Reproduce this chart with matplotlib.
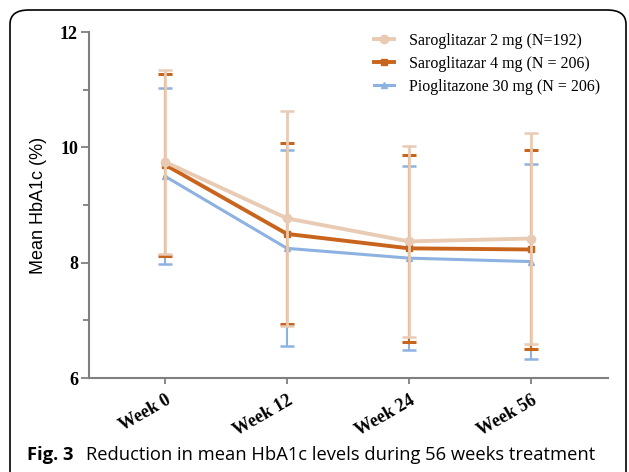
import matplotlib
matplotlib.use("Agg")
import matplotlib.pyplot as plt
from matplotlib.patches import FancyBboxPatch
from matplotlib.lines import Line2D
import matplotlib.transforms as mtransforms

categories = ["Week 0", "Week 12", "Week 24", "Week 56"]
saro2_mean = [9.75, 8.77, 8.37, 8.42]
saro2_sd = [1.60, 1.86, 1.65, 1.83]
saro4_mean = [9.70, 8.50, 8.25, 8.23]
saro4_sd = [1.58, 1.57, 1.62, 1.72]
pio_mean = [9.50, 8.25, 8.08, 8.02]
pio_sd = [1.53, 1.70, 1.60, 1.69]
labels = ["Saroglitazar 2 mg (N=192)", "Saroglitazar 4 mg (N = 206)", "Pioglitazone 30 mg (N = 206)"]

c_tan = "#E9CBB4"
c_org = "#C8641C"
c_blu = "#8DB2E2"

fig = plt.figure(figsize=(6.29, 4.72), dpi=100)
ax = fig.add_axes([0.1415, 0.199, 0.825, 0.733])
x = list(range(len(categories)))

ax.errorbar(x, pio_mean, yerr=pio_sd, color=c_blu, ecolor=c_blu, lw=2.2, marker="^", ms=5,
            capsize=5, capthick=1.8, elinewidth=1.5, zorder=2)
ax.errorbar(x, saro4_mean, yerr=saro4_sd, color=c_org, ecolor=c_org, lw=2.8, marker="s", ms=5,
            capsize=5, capthick=2.2, elinewidth=1.5, zorder=3)
ax.errorbar(x, saro2_mean, yerr=saro2_sd, color=c_tan, ecolor=c_tan, lw=2.8, marker="o", ms=6,
            capsize=5, capthick=1.8, elinewidth=2.0, zorder=4)

ax.set_xlim(-0.623, 3.631)
ax.set_ylim(6, 12)
ax.set_yticks([6, 8, 10, 12])
ax.set_yticks([7, 9, 11], minor=True)
ax.set_xticks(x)
ax.set_xticklabels(categories, rotation=30, ha="right", rotation_mode="anchor",
                   fontfamily="Liberation Serif", fontweight="bold", fontsize=13)
offset = mtransforms.ScaledTranslation(3 / 100, -3 / 100, fig.dpi_scale_trans)
for lbl in ax.get_xticklabels():
    lbl.set_transform(lbl.get_transform() + offset)
for lbl in ax.get_yticklabels():
    lbl.set_fontfamily("Liberation Serif")
    lbl.set_fontweight("bold")
    lbl.set_fontsize(13)
for s in ["top", "right"]:
    ax.spines[s].set_visible(False)
for s in ["left", "bottom"]:
    ax.spines[s].set_color("#7f7f7f")
    ax.spines[s].set_linewidth(1.5)
ax.tick_params(axis="both", which="both", color="#7f7f7f", width=1.3, direction="out")
ax.tick_params(axis="y", which="major", length=6, pad=2)
ax.tick_params(axis="y", which="minor", length=4)
ax.tick_params(axis="x", length=4, pad=6)
ax.set_ylabel("Mean HbA1c (%)", fontfamily="Liberation Sans", fontsize=13, labelpad=9)

handles = [
    Line2D([], [], color=c_tan, lw=2.8, marker="o", ms=6),
    Line2D([], [], color=c_org, lw=2.8, marker="s", ms=5),
    Line2D([], [], color=c_blu, lw=2.2, marker="^", ms=5),
]
ax.legend(handles, labels, loc="upper right", bbox_to_anchor=(1.012, 1.04), frameon=False,
          prop={"family": "Liberation Serif", "size": 11.5}, handlelength=1.3,
          labelspacing=0.45, handletextpad=0.9)

fig.text(0.043, 0.026, "Fig. 3", fontfamily="Open Sans", fontweight="bold", fontsize=13.2)
fig.text(0.137, 0.026, "Reduction in mean HbA1c levels during 56 weeks treatment",
         fontfamily="Open Sans", fontsize=13.2)

box = FancyBboxPatch((10 / 629, -0.1), (626 - 10) / 629, 1.0 - 10 / 472 + 0.1,
                     boxstyle="round,pad=0,rounding_size=0.03", transform=fig.transFigure,
                     fill=False, edgecolor="black", lw=1.2)
fig.patches.append(box)

fig.savefig("out.png", dpi=100)
